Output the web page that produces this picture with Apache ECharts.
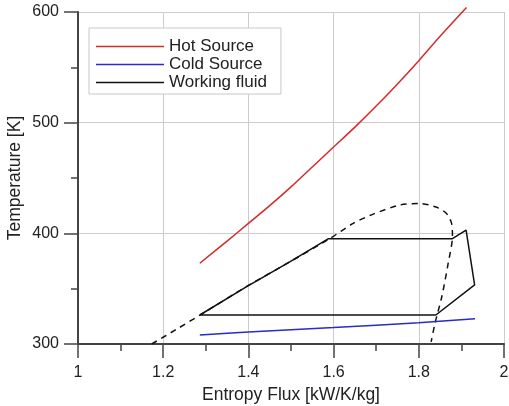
<!DOCTYPE html>
<html>
<head>
<meta charset="utf-8">
<script src="https://cdn.jsdelivr.net/npm/echarts@6/dist/echarts.min.js"></script>
<style>
  html, body { margin: 0; padding: 0; background: #fff; }
  #chart { width: 509px; height: 406px; }
</style>
</head>
<body>
<div id="chart"></div>
<script>
// values
const hotX = [1.286, 1.35, 1.4, 1.45, 1.5, 1.55, 1.6, 1.65, 1.7, 1.75, 1.8, 1.85, 1.912];
const hotY = [373, 393, 409, 425, 442, 460, 478, 496, 515, 535, 556, 578, 604];

const coldX = [1.286, 1.4, 1.6, 1.8, 1.932];
const coldY = [308.1, 310.9, 314.9, 319.3, 322.9];

const cycleX = [1.286, 1.396, 1.498, 1.588, 1.879, 1.911, 1.931, 1.840, 1.286];
const cycleY = [326.2, 351.8, 374.4, 395.2, 395.2, 403, 353.5, 326.2, 326.2];

const domeX = [1.173, 1.23, 1.286, 1.396, 1.498, 1.59, 1.646, 1.693, 1.756, 1.803, 1.842, 1.865, 1.877, 1.879, 1.869, 1.854, 1.838, 1.829];
const domeY = [300, 313, 326, 352, 374.4, 395, 409, 417.4, 425.6, 427, 423.5, 418, 409, 397, 373, 342.7, 318.7, 302];

const xTicks = { min: 1, max: 2, interval: 0.2 };
const yTicks = { min: 300, max: 600, interval: 100 };

const pairs = (xs, ys) => xs.map((x, i) => [x, ys[i]]);

const chart = echarts.init(document.getElementById("chart"));
const font = "'Liberation Sans', Arial, sans-serif";
const axisColor = "#444";
const lineIcon = "path://M0,0H68V1.5H0Z";

chart.setOption({
  animation: false,
  backgroundColor: "#fff",
  textStyle: { fontFamily: font },
  grid: { left: 78, right: 5, top: 12, bottom: 62, outerBoundsMode: "none", containLabel: false },
  legend: {
    data: [
      { name: "Hot Source", icon: lineIcon },
      { name: "Cold Source", icon: lineIcon },
      { name: "Working fluid", icon: lineIcon },
    ],
    orient: "vertical",
    left: 89,
    top: 28,
    padding: [10, 14, 3, 7],
    itemWidth: 68,
    itemHeight: 14,
    itemGap: 1,
    symbolKeepAspect: true,
    borderColor: "#c8c8c8",
    borderWidth: 1,
    backgroundColor: "#fff",
    textStyle: { fontSize: 17, color: "#222", fontFamily: font },
  },
  xAxis: {
    type: "value",
    min: xTicks.min,
    max: xTicks.max,
    interval: xTicks.interval,
    name: "Entropy Flux [kW/K/kg]",
    nameLocation: "middle",
    nameGap: 40,
    nameTextStyle: { fontSize: 17.5, color: "#222", fontFamily: font },
    axisLine: { lineStyle: { color: axisColor, width: 2 } },
    axisTick: { show: true, length: 14, lineStyle: { color: axisColor, width: 1.5 } },
    minorTick: { show: true, splitNumber: 2, length: 7, lineStyle: { color: axisColor, width: 1.5 } },
    axisLabel: { fontSize: 16, color: "#222", margin: 21, fontFamily: font },
    splitLine: { show: true, lineStyle: { color: "#cccccc", width: 1 } },
  },
  yAxis: {
    type: "value",
    min: yTicks.min,
    max: yTicks.max,
    interval: yTicks.interval,
    name: "Temperature [K]",
    nameLocation: "middle",
    nameGap: 54,
    nameMoveOverlap: false,
    nameTextStyle: { fontSize: 17.5, color: "#222", fontFamily: font },
    axisLine: { show: true, lineStyle: { color: axisColor, width: 2 } },
    axisTick: { show: true, length: 14, lineStyle: { color: axisColor, width: 1.5 } },
    minorTick: { show: true, splitNumber: 2, length: 7, lineStyle: { color: axisColor, width: 1.5 } },
    axisLabel: { fontSize: 16, color: "#222", margin: 19, fontFamily: font },
    splitLine: { show: true, lineStyle: { color: "#cccccc", width: 1 } },
  },
  series: [
    {
      name: "Hot Source",
      type: "line",
      data: pairs(hotX, hotY),
      smooth: 0.3,
      symbol: "none",
      clip: false,
      lineStyle: { color: "#d42a2a", width: 1.5 },
      itemStyle: { color: "#d42a2a" },
    },
    {
      name: "Cold Source",
      type: "line",
      data: pairs(coldX, coldY),
      smooth: 0.3,
      symbol: "none",
      lineStyle: { color: "#2b2bc8", width: 1.5 },
      itemStyle: { color: "#2b2bc8" },
    },
    {
      name: "dome",
      type: "line",
      data: pairs(domeX, domeY),
      smooth: 0.25,
      symbol: "none",
      lineStyle: { color: "#111", width: 1.5, type: [6, 5] },
      z: 2,
    },
    {
      name: "Working fluid",
      type: "line",
      data: pairs(cycleX, cycleY),
      symbol: "none",
      lineStyle: { color: "#111", width: 1.5 },
      itemStyle: { color: "#111" },
      z: 3,
    },
  ],
});
</script>
</body>
</html>
